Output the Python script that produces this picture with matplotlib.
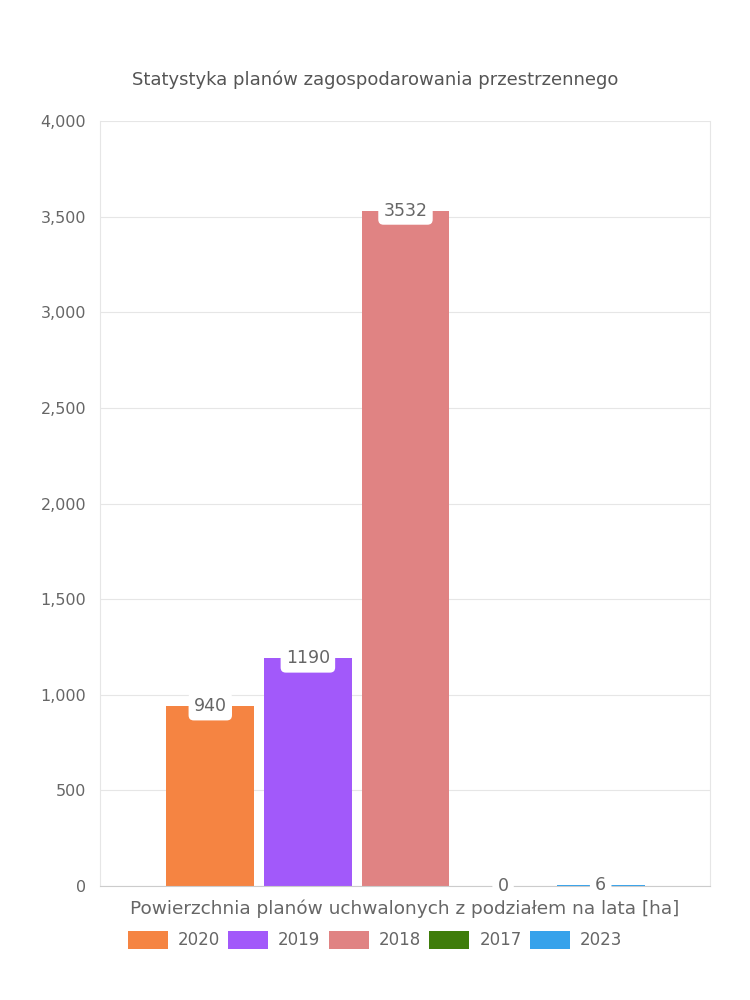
import numpy as np
import matplotlib.pyplot as plt

years = ['2020', '2019', '2018', '2017', '2023']
values = [940, 1190, 3532, 0, 6]
colors = ['#F58442', '#A259FA', '#E08383', '#3F7D0B', '#36A2EB']

plt.rcParams['font.family'] = ['DejaVu Sans']
txt = '#666666'

fig = plt.figure(figsize=(7.5, 10), dpi=100)
ax = fig.add_axes([100/750, 1-886/1000, 610/750, 765/1000])

x = np.arange(len(years))
bars = ax.bar(x, values, width=0.9, color=colors, label=years, zorder=2)

for xi, v in zip(x, values):
    ax.text(xi, v, str(v), ha='center', va='center', fontsize=12.5, color=txt, zorder=3,
            bbox=dict(boxstyle='round,pad=0.3,rounding_size=0.3', fc='white', ec='none'))

ax.set_xlim(-1.13, 5.12)
ax.set_ylim(0, 4000)
ax.set_yticks(np.arange(0, 4001, 500))
ax.set_yticklabels([f'{t:,}' for t in range(0, 4001, 500)])
ax.set_xticks([])
ax.grid(axis='y', color='#e6e6e6', lw=0.8, zorder=0)
for s in ['left', 'right', 'top']:
    ax.spines[s].set_color('#e6e6e6')
ax.spines['top'].set_visible(False)
ax.spines['bottom'].set_color('#cccccc')
ax.tick_params(axis='y', colors=txt, labelsize=11.5, length=0, pad=10)

ax.set_xlabel('Powierzchnia planów uchwalonych z podziałem na lata [ha]', fontsize=13.3, color=txt, labelpad=10)
fig.text(0.5, 0.92, 'Statystyka planów zagospodarowania przestrzennego', ha='center', va='center',
         fontsize=13, color='#555555')

leg = fig.legend(bars, years, loc='center', bbox_to_anchor=(0.5, 0.06), ncol=5, frameon=False,
                 fontsize=12, handlelength=2.4, handleheight=1.3, columnspacing=0.5, handletextpad=0.6)
for t in leg.get_texts():
    t.set_color(txt)

fig.savefig('out.png', dpi=100)
